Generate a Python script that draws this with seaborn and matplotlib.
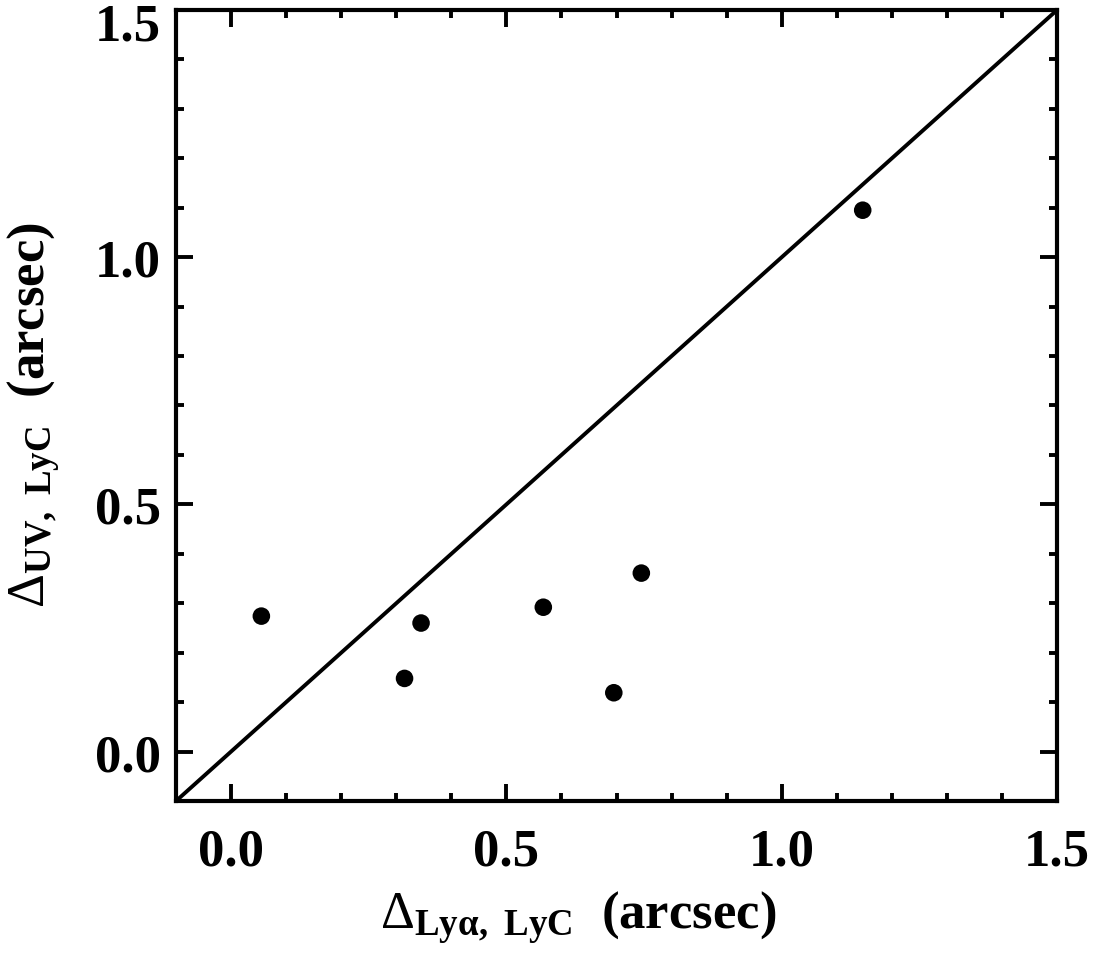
import matplotlib
matplotlib.use("Agg")
import matplotlib.pyplot as plt
import matplotlib.transforms as mtransforms
import seaborn as sns
import numpy as np
import pandas as pd
from matplotlib.ticker import MultipleLocator

x_lya = [0.055, 0.315, 0.345, 0.567, 0.695, 0.745, 1.147]
y_uv = [0.274, 0.148, 0.260, 0.292, 0.119, 0.361, 1.095]
line_vals = [-0.1, 1.5]
xticks = [0.0, 0.5, 1.0, 1.5]
yticks = [0.0, 0.5, 1.0, 1.5]

sns.set_theme(style="white")
plt.rcParams['font.family'] = ['Liberation Serif', 'DejaVu Serif']
plt.rcParams['text.color'] = 'black'
plt.rcParams['axes.labelcolor'] = 'black'
plt.rcParams['mathtext.fontset'] = 'custom'
plt.rcParams['mathtext.rm'] = 'Liberation Serif:weight=normal'
plt.rcParams['mathtext.it'] = 'Liberation Serif:weight=bold'
plt.rcParams['mathtext.bf'] = 'Liberation Serif:weight=bold'

df = pd.DataFrame({"x": x_lya, "y": y_uv})

fig = plt.figure(figsize=(11, 9.54), dpi=100)
ax = fig.add_axes([0.16, 0.1593, 0.801, 0.8292])

sns.lineplot(x=line_vals, y=line_vals, ax=ax, color="black", linewidth=2.8)
sns.scatterplot(data=df, x="x", y="y", ax=ax, color="black", s=160, edgecolor="none")

ax.set_xlim(-0.1, 1.5)
ax.set_ylim(-0.1, 1.5)
ax.set_xticks(xticks)
ax.set_yticks(yticks)
ax.set_xticklabels([f"{v:.1f}" for v in xticks])
ax.set_yticklabels([f"{v:.1f}" for v in yticks])
ax.xaxis.set_minor_locator(MultipleLocator(0.1))
ax.yaxis.set_minor_locator(MultipleLocator(0.1))
ax.tick_params(which='both', direction='in', top=True, right=True, bottom=True, left=True,
               width=2.8, colors='black')
ax.tick_params(axis='x', which='major', length=12, labelsize=38, pad=19)
ax.tick_params(axis='y', which='major', length=12, labelsize=38, pad=11)
ax.tick_params(which='minor', length=6)
for lab in ax.get_xticklabels() + ax.get_yticklabels():
    lab.set_fontweight('bold')
    lab.set_color('black')
# top y tick label sits lower in the reference
toplab = ax.get_yticklabels()[-1]
toplab.set_transform(toplab.get_transform() +
                     mtransforms.ScaledTranslation(0, -11 / 100, fig.dpi_scale_trans))
for sp in ax.spines.values():
    sp.set_linewidth(3.0)
    sp.set_color('black')

ax.set_xlabel(r'$\Delta_{\mathbf{Ly\alpha,\ LyC}}$  (arcsec)', fontsize=38, fontweight='bold', color='black')
ax.set_ylabel(r'$\Delta_{\mathbf{UV,\ LyC}}$  (arcsec)', fontsize=38, fontweight='bold', color='black')
ax.xaxis.set_label_coords(0.456, -0.110)
ax.yaxis.set_label_coords(-0.129, 0.489)

fig.savefig("out.png", dpi=100)
